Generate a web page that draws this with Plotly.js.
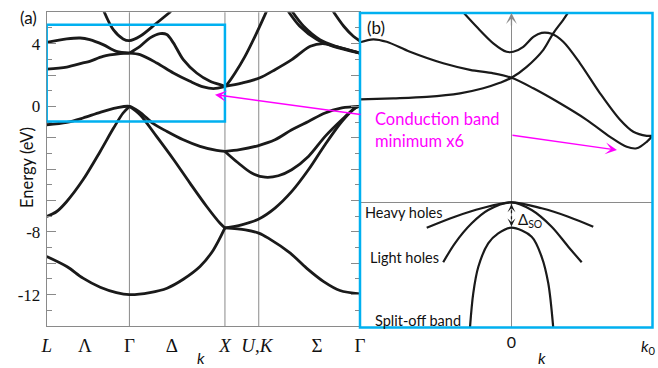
<!DOCTYPE html>
<html>
<head>
<meta charset="utf-8">
<script src="https://cdn.plot.ly/plotly-3.0.1.min.js"></script>
<style>
  body { margin: 0; background: #fff; }
  #chart { width: 658px; height: 368px; }
</style>
</head>
<body>
<div id="chart"></div>
<script>
/*
 * (a) band structure along L - Γ - X - U,K - Γ  (k in units of 2π/a, E in eV)
 */
var kL = 0, kG = 0.866, kX = 1.866, kU = 2.22, kG2 = 3.28;
var pathTicks = [0, 0.40, 0.866, 1.31, 1.866, 2.20, 2.83, 3.28];
var pathLabels = ['<i>L</i>', 'Λ', 'Γ', 'Δ', '<i>X</i>', '<i>U</i>,<i>K</i>', 'Σ', 'Γ'];
var energyTicks = [-14, -12, -10, -8, -6, -4, -2, 0, 2, 4, 6];
var energyLabels = ['', '-12', '', '-8', '', '', '', '0', '', '4', ''];
var symLines = [kG, kX, kU];

// valence bands
var vb1a = [[0,-9.57],[0.21,-10.21],[0.38,-10.95],[0.56,-11.53],[0.73,-11.87],[0.866,-12.0],[1.08,-11.87],[1.26,-11.59],[1.43,-11.02],[1.605,-10.21],[1.745,-9.15],[1.866,-7.75]];
var vb1b = [[1.866,-7.75],[2.08,-7.87],[2.22,-8.08],[2.32,-8.4],[2.55,-9.36],[2.72,-10.31],[2.90,-11.17],[3.07,-11.74],[3.28,-11.95]];
var vb2 = [[0,-7.02],[0.105,-6.70],[0.21,-6.06],[0.38,-4.68],[0.56,-2.87],[0.70,-1.38],[0.80,-0.42],[0.866,0]];
var vb3 = [[0.866,0],[0.977,-0.53],[1.15,-1.91],[1.33,-3.40],[1.50,-4.89],[1.675,-6.38],[1.815,-7.45],[1.866,-7.75]];
var vb4 = [[0,-1.17],[0.21,-1.02],[0.38,-0.74],[0.56,-0.38],[0.73,-0.10],[0.866,0],[0.977,-0.38],[1.117,-1.10],[1.26,-1.60],[1.43,-2.13],[1.605,-2.55],[1.78,-2.81],[1.866,-2.87]];
var vb5 = [[1.866,-2.87],[2.02,-2.76],[2.21,-2.51],[2.39,-2.13],[2.566,-1.49],[2.74,-0.96],[2.915,-0.42],[3.09,-0.10],[3.28,0]];
var vb6 = [[1.866,-2.87],[2.006,-3.61],[2.146,-4.25],[2.286,-4.51],[2.425,-4.42],[2.565,-4.04],[2.74,-3.19],[2.915,-1.91],[3.09,-0.85],[3.23,-0.10],[3.28,0]];
var vb7 = [[1.866,-7.75],[2.04,-7.55],[2.216,-7.19],[2.39,-6.48],[2.566,-5.42],[2.74,-4.04],[2.914,-2.44],[3.09,-0.96],[3.23,-0.10],[3.28,0]];

// conduction bands
var cb1 = [[0,4.08],[0.21,4.30],[0.35,4.36],[0.45,4.26],[0.59,3.94],[0.73,3.51],[0.866,3.40]];
var cb2 = [[0,2.38],[0.21,2.51],[0.38,2.77],[0.45,2.87],[0.59,3.19],[0.77,3.36],[0.866,3.40]];
var cb3 = [[0.866,3.40],[0.977,3.30],[1.152,2.77],[1.326,2.13],[1.50,1.60],[1.64,1.24],[1.745,1.13],[1.85,1.24],[1.866,1.28]];
var cb4 = [[0.866,3.40],[0.977,3.83],[1.082,4.37],[1.187,4.64],[1.257,4.58],[1.326,4.05],[1.43,2.98],[1.57,2.13],[1.71,1.60],[1.85,1.32],[1.866,1.28]];
var cb5 = [[0.60,6.05],[0.697,4.89],[0.80,4.30],[0.866,4.19],[0.977,4.47],[1.152,5.32],[1.30,6.05]];
var cb6 = [[1.866,1.28],[1.885,1.38],[1.972,2.13],[2.076,3.19],[2.181,4.47],[2.286,5.85],[2.30,6.05]];
var cb7 = [[1.866,1.28],[2.04,1.49],[2.226,1.81],[2.39,2.34],[2.566,2.98],[2.76,3.83],[2.89,4.0],[3.04,3.80],[3.28,3.40]];
var cb8 = [[2.53,6.05],[2.65,5.11],[2.83,4.26],[3.0,3.83],[3.28,3.40]];
var cb9 = [[2.57,6.05],[2.69,5.11],[2.86,4.26],[3.02,3.85],[3.28,3.40]];
var cb10 = [[3.0,6.05],[3.11,5.11],[3.21,4.47],[3.28,4.17]];

// zoom box drawn on (a): L..X, -1..5.2 eV
var boxE = [-0.96, 5.21];

/*
 * (b) schematic near the gap (k from Γ=0 to k0, energy in arbitrary units)
 */
var bandB1 = [[-1.074,2.06],[-0.838,2.08],[-0.601,2.11],[-0.365,2.18],[-0.200,2.28],[-0.082,2.39],[0,2.49],[0.108,2.71],[0.226,3.05],[0.296,3.38],[0.367,3.65],[0.403,3.80]];
var bandB2 = [[-1.074,3.20],[-0.980,3.26],[-0.885,3.21],[-0.720,3.01],[-0.484,2.78],[-0.294,2.65],[-0.129,2.58],[0,2.49],[0.155,2.28],[0.344,1.98],[0.533,1.65],[0.699,1.31],[0.817,1.11],[0.888,1.08],[0.959,1.21],[1.0,1.33]];
var bandB3 = [[-0.342,3.80],[-0.247,3.51],[-0.129,3.18],[-0.034,3.01],[0.013,3.01],[0.084,3.11],[0.155,3.31],[0.214,3.39],[0.285,3.37],[0.367,3.21],[0.486,2.78],[0.628,2.18],[0.770,1.65],[0.864,1.41],[0.959,1.33],[1.0,1.33]];
var heavyHoles = [[-0.601,-0.508],[-0.401,-0.288],[-0.211,-0.12],[0,0],[0.214,-0.12],[0.403,-0.288],[0.580,-0.488]];
var lightHoles = [[-0.484,-1.20],[-0.401,-0.82],[-0.282,-0.42],[-0.165,-0.154],[0,0],[0.143,-0.154],[0.285,-0.488],[0.403,-0.888],[0.498,-1.20]];
var splitOff = [[-0.294,-2.50],[-0.271,-1.82],[-0.235,-1.29],[-0.165,-0.82],[-0.094,-0.62],[0,-0.508],[0.143,-0.688],[0.214,-1.09],[0.261,-1.62],[0.296,-2.50]];
var deltaSO = [-0.04, -0.48];
var cbmA = [1.762, 0.75];   // arrow head in (a)
var cbmB = [0.748, 1.046];  // arrow head in (b)

var black = '#1a1a1a';
var cyan = '#00B0F0';
var magenta = '#FF00FF';
var grey = '#8a8a8a';

function bandTrace(pts, xa, ya, w) {
  return {
    x: pts.map(p => p[0]),
    y: pts.map(p => p[1]),
    xaxis: xa, yaxis: ya,
    type: 'scatter', mode: 'lines',
    line: { color: black, width: w, shape: 'spline', smoothing: 0.9 },
    hoverinfo: 'skip', showlegend: false
  };
}

var bandsA = [vb1a, vb1b, vb2, vb3, vb4, vb5, vb6, vb7, cb1, cb2, cb3, cb4, cb5, cb6, cb7, cb8, cb9, cb10];
var bandsB = [bandB1, bandB2, bandB3, heavyHoles, lightHoles, splitOff];

var data = bandsA.map(b => bandTrace(b, 'x', 'y', 2.8))
  .concat(bandsB.map(b => bandTrace(b, 'x2', 'y2', 2.2)));

data.push({
  x: [0, 0], y: deltaSO, xaxis: 'x2', yaxis: 'y2',
  type: 'scatter', mode: 'lines',
  line: { color: black, width: 1.3, dash: 'dot' },
  hoverinfo: 'skip', showlegend: false
});

var serif = '"Liberation Serif", "Times New Roman", serif';
var sans = 'Lato, "Open Sans", sans-serif';

var shapes = symLines.map(k => ({
  type: 'line', xref: 'x', yref: 'y domain',
  x0: k, x1: k, y0: 0, y1: 1,
  line: { color: grey, width: 1 }, layer: 'below'
}));
shapes.push({
  type: 'rect', xref: 'x', yref: 'y',
  x0: kL, x1: kX, y0: boxE[0], y1: boxE[1],
  line: { color: cyan, width: 2.5 }
});
shapes.push({
  type: 'rect', xref: 'x2 domain', yref: 'y2 domain',
  x0: 0, x1: 1, y0: 0, y1: 1,
  line: { color: cyan, width: 2.5 }
});

function note(text, x, y, xref, yref, extra) {
  return Object.assign({
    text: text, x: x, y: y, xref: xref, yref: yref,
    showarrow: false, xanchor: 'left', yanchor: 'middle',
    font: { family: sans, size: 14.5, color: '#111' }
  }, extra || {});
}

var annotations = [
  note('(a)', 28 / 658, 1 - 17 / 368, 'paper', 'paper', { xanchor: 'center', font: { family: sans, size: 17, color: '#111' } }),
  note('(b)', 376 / 658, 1 - 27 / 368, 'paper', 'paper', { xanchor: 'center', font: { family: sans, size: 17, color: '#111' } }),
  note('Energy (eV)', 27 / 658, 1 - 168 / 368, 'paper', 'paper', { xanchor: 'center', textangle: -90, font: { family: sans, size: 16.5, color: '#111' } }),
  note('<i>k</i>', 201 / 658, -0.004, 'paper', 'paper', { xanchor: 'center', yanchor: 'bottom', font: { family: sans, size: 16, color: '#111' } }),
  note('<i>k</i>', 542 / 658, -0.004, 'paper', 'paper', { xanchor: 'center', yanchor: 'bottom', font: { family: sans, size: 16, color: '#111' } }),
  note('<i>k</i><sub>0</sub>', 0.975, 1 - 346 / 368, 'x2', 'paper', { xanchor: 'center', font: { family: sans, size: 16, color: '#111' } }),
  note('Heavy holes', -1.052, -0.194, 'x2', 'y2'),
  note('Light holes', -1.018, -1.094, 'x2', 'y2'),
  note('Split-off band', -0.982, -2.354, 'x2', 'y2'),
  note('Δ<sub>SO</sub>', 0.032, -0.354, 'x2', 'y2', { font: { family: sans, size: 15, color: '#111' } }),
  note('Conduction band', -0.982, 1.666, 'x2', 'y2', { font: { family: sans, size: 16.5, color: magenta } }),
  note('minimum x6', -0.982, 1.226, 'x2', 'y2', { font: { family: sans, size: 16.5, color: magenta } }),
  // magenta arrows to the conduction band minimum
  { x: cbmA[0], y: cbmA[1], xref: 'x', yref: 'y', text: '', showarrow: true,
    arrowhead: 3, arrowsize: 1.4, arrowwidth: 1.4, arrowcolor: magenta, ax: 147, ay: 20 },
  { x: cbmB[0], y: cbmB[1], xref: 'x2', yref: 'y2', text: '', showarrow: true,
    arrowhead: 3, arrowsize: 1.4, arrowwidth: 1.4, arrowcolor: magenta, ax: -106, ay: -15 },
  // k axis arrow in (b)
  { x: 0, y: 3.786, xref: 'x2', yref: 'y2', text: '', showarrow: true,
    arrowhead: 3, arrowsize: 1.4, arrowwidth: 1.3, arrowcolor: grey, ax: 0, ay: 14 },
  // Δso arrow heads
  { x: 0, y: deltaSO[0], xref: 'x2', yref: 'y2', text: '', showarrow: true,
    arrowhead: 3, arrowsize: 1.1, arrowwidth: 1.2, arrowcolor: black, ax: 0, ay: 5 },
  { x: 0, y: deltaSO[1], xref: 'x2', yref: 'y2', text: '', showarrow: true,
    arrowhead: 3, arrowsize: 1.1, arrowwidth: 1.2, arrowcolor: black, ax: 0, ay: -5 }
];

var layout = {
  width: 658, height: 368,
  margin: { l: 0, r: 0, t: 0, b: 0 },
  paper_bgcolor: '#fff', plot_bgcolor: 'rgba(0,0,0,0)',
  showlegend: false,
  xaxis: {
    domain: [46.7 / 658, 360 / 658], range: [kL, kG2],
    showgrid: false, zeroline: false,
    showline: true, mirror: true, linecolor: grey, linewidth: 1,
    tickmode: 'array', tickvals: pathTicks, ticktext: pathLabels, ticks: '',
    ticklabelstandoff: 2,
    tickfont: { family: serif, size: 19, color: '#111' }
  },
  yaxis: {
    domain: [1 - 326 / 368, 1 - 12.3 / 368], range: [-14, 6],
    showgrid: false, zeroline: false,
    showline: true, mirror: 'ticks', linecolor: grey, linewidth: 1,
    tickmode: 'array', tickvals: energyTicks, ticktext: energyLabels,
    ticks: 'inside', ticklen: 9, tickcolor: grey,
    minor: { dtick: 1, ticks: 'inside', ticklen: 5, tickcolor: grey, showgrid: false },
    ticklabelstandoff: 2,
    tickfont: { family: serif, size: 17, color: '#111' }
  },
  xaxis2: {
    domain: [360 / 658, 652.5 / 658], range: [-1.074, 1.0], anchor: 'y2',
    showgrid: false, showline: false,
    zeroline: true, zerolinecolor: grey, zerolinewidth: 1.5,
    tickmode: 'array', tickvals: [0], ticktext: ['0'], ticks: '',
    ticklabelstandoff: 3,
    tickfont: { family: sans, size: 16, color: '#111' }
  },
  yaxis2: {
    domain: [1 - 327.5 / 368, 1 - 13 / 368], range: [-2.504, 3.786], anchor: 'x2',
    showgrid: false, showline: false, showticklabels: false, ticks: '',
    zeroline: true, zerolinecolor: grey, zerolinewidth: 1.5
  },
  shapes: shapes,
  annotations: annotations
};

Plotly.newPlot('chart', data, layout, { staticPlot: true, displayModeBar: false });
</script>
</body>
</html>
